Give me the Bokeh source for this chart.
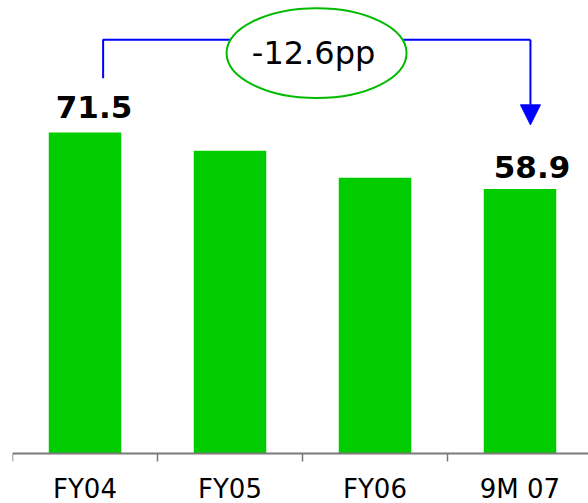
from bokeh.plotting import figure
from bokeh.models import Range1d, FixedTicker, Arrow, NormalHead
from bokeh.core.properties import value
from bokeh.embed import file_html
from bokeh.resources import INLINE

# Data
categories = ["FY04", "FY05", "FY06", "9M 07"]
ratios = [71.5, 67.4, 61.4, 58.9]
labelled = [0, 3]          # bars whose value is printed
change_text = "-12.6pp"

FONT = "DejaVu Sans"
GREEN = "#00CC00"
BLUE = "#0000FF"

# Vertical scale: pixels per unit and the pixel row of the zero line
W, H = 588, 503
PX_PER_UNIT = 4.483
ZERO_PX = 452.5
CAT_PX = 145.0
LEFT_PX = 12

x = [i + 0.5 for i in range(len(categories))]
boundaries = [float(i) for i in range(len(categories))]

p = figure(width=W, height=H, output_backend="svg", toolbar_location=None,
           x_range=Range1d(0, (W - LEFT_PX) / CAT_PX),
           y_range=Range1d(-(H - ZERO_PX) / PX_PER_UNIT, ZERO_PX / PX_PER_UNIT),
           min_border_left=LEFT_PX, min_border_right=0, min_border_top=0,
           min_border_bottom=0)
p.outline_line_color = None
p.grid.visible = False
p.yaxis.visible = False
p.background_fill_color = "white"
p.border_fill_color = "white"

# Bars
p.vbar(x=x, top=ratios, width=0.5, fill_color=GREEN, line_color=None)

# Category axis pinned at zero: labels centred on bars, ticks at boundaries
ax = p.xaxis[0]
ax.fixed_location = 0
ax.ticker = FixedTicker(ticks=x, minor_ticks=boundaries)
ax.major_label_overrides = {xi: c for xi, c in zip(x, categories)}
ax.major_tick_in = 0
ax.major_tick_out = 0
ax.major_tick_line_color = None
ax.minor_tick_in = 0
ax.minor_tick_out = 8
ax.minor_tick_line_color = "#777777"
ax.minor_tick_line_width = 1.5
ax.axis_line_color = "#7a7a7a"
ax.axis_line_width = 2
ax.major_label_standoff = 13
ax.major_label_text_font = FONT
ax.major_label_text_font_size = "26px"
ax.major_label_text_color = "black"

# Value labels above first and last bars
lift_px = [25, 22]
p.text(x=[x[i] for i in labelled],
       y=[ratios[i] + d / PX_PER_UNIT for i, d in zip(labelled, lift_px)],
       text=[f"{ratios[i]:.1f}" for i in labelled],
       x_offset=[9, 12],
       text_align="center", text_baseline="alphabetic",
       text_font=value(FONT), text_font_style="bold",
       text_font_size="31px", text_color="black")

# Change bracket from first to last bar
left_x = x[0] + 0.125
right_x = x[-1] + 0.072
bracket_y = 92.2
p.line(x=[left_x, left_x, right_x], y=[83.6, bracket_y, bracket_y],
       line_color=BLUE, line_width=2)
p.add_layout(Arrow(x_start=right_x, y_start=bracket_y, x_end=right_x, y_end=73.2,
                   line_color=BLUE, line_width=2,
                   end=NormalHead(size=20, fill_color=BLUE, line_color=BLUE)))

# Ellipse badge with the change
cx, cy = 2.097, 89.2
p.ellipse(x=[cx], y=[cy], width=180, height=90, width_units="screen",
          height_units="screen", fill_color="white", line_color="#00BB00",
          line_width=2)
p.text(x=[cx], y=[cy], text=[change_text], x_offset=-3,
       text_align="center", text_baseline="middle",
       text_font=value(FONT), text_font_size="32px", text_color="black")

open("out.html", "w").write(file_html(p, INLINE))
